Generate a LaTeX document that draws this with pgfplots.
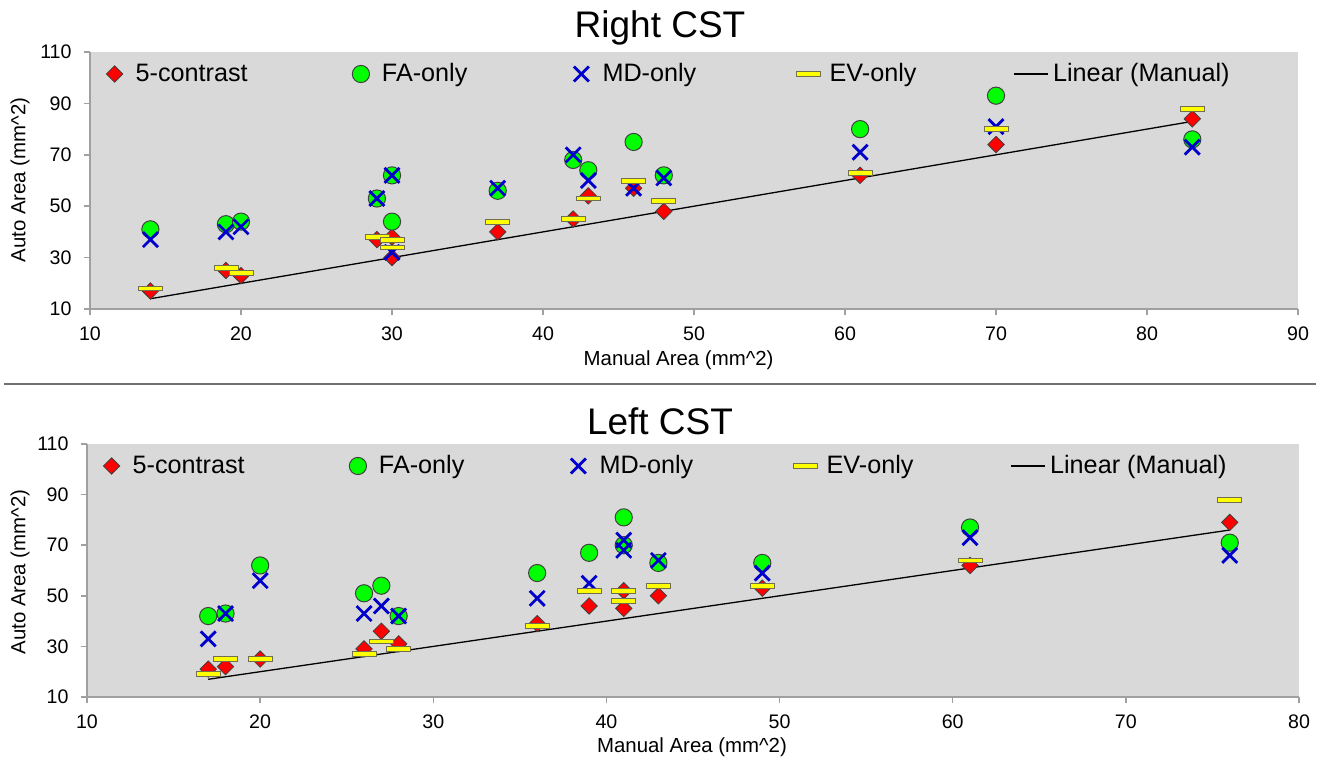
\documentclass[border=0pt]{standalone}
\usepackage{pgfplots}
\pgfplotsset{compat=1.18}
\usepackage{pgfplotstable}
\usepackage{fontspec}
\setmainfont{Liberation Sans}
\definecolor{bggray}{HTML}{D9D9D9}
\definecolor{axisgray}{HTML}{A0A0A0}
\definecolor{sepgray}{HTML}{707070}
\definecolor{darkline}{HTML}{404040}
\definecolor{fagreen}{HTML}{00FF00}
\definecolor{mdblue}{HTML}{0000CC}
\definecolor{evyellow}{HTML}{FFFF00}
\definecolor{evline}{HTML}{707050}
\pgfdeclareplotmark{evbar}{%
  \pgfpathrectangle{\pgfqpoint{-6pt}{-1.2pt}}{\pgfqpoint{12pt}{2.4pt}}%
  \pgfusepathqfillstroke}

\pgfplotstableread{
x  c5 fa md ev
14 17 41 37 18
19 25 43 40 26
20 23 44 42 24
29 37 53 53 38
30 38 62 62 37
30 30 44 32 34
37 40 56 57 44
42 45 68 70 45
43 54 64 60 53
46 57 75 57 60
48 48 62 61 52
61 62 80 71 63
70 74 93 81 80
83 84 76 73 88
}\rightdata

\pgfplotstableread{
x  c5 fa md ev
17 21 42 33 19
18 22 43 43 25
20 25 62 56 25
26 29 51 43 27
27 36 54 46 32
28 31 42 42 29
36 39 59 49 38
39 46 67 55 52
41 52 81 72 52
41 45 70 68 48
43 50 63 64 54
49 53 63 59 54
61 62 77 73 64
76 79 71 66 88
}\leftdata

\pgfplotsset{
  cstaxis/.style={
    scale only axis,
    anchor=south west,
    axis x line*=bottom, axis y line*=left,
    axis line style={-, draw=axisgray, line width=0.75pt},
    axis background/.style={fill=bggray},
    tick align=outside,
    major tick length=3.2pt,
    tick style={draw=axisgray, line width=0.75pt},
    ymin=10, ymax=110, ytick={10,30,50,70,90,110},
    ticklabel style={font=\fontsize{9.8}{11}\selectfont},
    xticklabel style={yshift=-2pt},
    yticklabel style={xshift=-2.5pt},
    /pgf/number format/assume math mode=true,
    legend columns=5,
    legend style={draw=none, fill=none, inner sep=0pt, outer sep=0pt,
      at={(axis description cs:0,1)}, anchor=west, xshift=3.75pt, yshift=-11pt,
      font=\fontsize{12.6}{15}\selectfont, column sep=0pt,
      nodes={inner sep=2pt}},
    legend cell align=left,
  },
  markleg/.style={legend image code/.code={%
      \path[draw=none, fill=none] (0cm,0cm) -- (0.6cm,0cm);
      \draw[##1] plot[only marks] coordinates {(0.3cm,0cm)};}},
  c5style/.style={only marks, markleg, mark=square*, mark size=2.9pt,
    mark options={rotate=45, fill=red, draw=darkline, line width=0.4pt}},
  fastyle/.style={only marks, markleg, mark=*, mark size=4.3pt,
    mark options={fill=fagreen, draw=darkline, line width=0.5pt}},
  mdstyle/.style={only marks, markleg, mark=x, mark size=5.3pt,
    mark options={draw=mdblue, line width=1.4pt}},
  evstyle/.style={only marks, markleg, mark=evbar,
    mark options={fill=evyellow, draw=evline, line width=0.4pt}},
  linstyle/.style={black, line width=0.65pt, no marks},
}

\begin{document}
\begin{tikzpicture}
\path[use as bounding box] (0,0) rectangle (660pt,381pt);

% Right CST
\begin{axis}[cstaxis, at={(45pt,226.5pt)}, width=604pt, height=128.5pt,
  xmin=10, xmax=90, xtick={10,20,...,90}]
\addplot[c5style] table[x=x,y=c5]{\rightdata};
\addlegendentry{\makebox[102.1pt][l]{5-contrast}}
\addplot[fastyle] table[x=x,y=fa]{\rightdata};
\addlegendentry{\makebox[89.2pt][l]{FA-only}}
\addplot[mdstyle] table[x=x,y=md]{\rightdata};
\addlegendentry{\makebox[92.5pt][l]{MD-only}}
\addplot[evstyle] table[x=x,y=ev]{\rightdata};
\addlegendentry{\makebox[90pt][l]{EV-only}}
\addplot[linstyle] coordinates {(14,14) (83,83)};
\addlegendentry{Linear (Manual)}
\end{axis}

% Left CST
\begin{axis}[cstaxis, at={(43.5pt,32.5pt)}, width=606pt, height=126.5pt,
  xmin=10, xmax=80, xtick={10,20,...,80}]
\addplot[c5style] table[x=x,y=c5]{\leftdata};
\addlegendentry{\makebox[102.1pt][l]{5-contrast}}
\addplot[fastyle] table[x=x,y=fa]{\leftdata};
\addlegendentry{\makebox[89.2pt][l]{FA-only}}
\addplot[mdstyle] table[x=x,y=md]{\leftdata};
\addlegendentry{\makebox[92.5pt][l]{MD-only}}
\addplot[evstyle] table[x=x,y=ev]{\leftdata};
\addlegendentry{\makebox[90pt][l]{EV-only}}
\addplot[linstyle] coordinates {(17,17) (76,76)};
\addlegendentry{Linear (Manual)}
\end{axis}

% titles, labels, separator
\node[font=\fontsize{18.5}{22}\selectfont, anchor=base] at (330pt,362pt) {Right CST};
\node[font=\fontsize{18.5}{22}\selectfont, anchor=base] at (330pt,164pt) {Left CST};
\node[font=\fontsize{10.2}{12}\selectfont, anchor=base] at (339.3pt,198.5pt) {Manual Area (mm\^{}2)};
\node[font=\fontsize{10.2}{12}\selectfont, anchor=base] at (346pt,5pt) {Manual Area (mm\^{}2)};
\node[font=\fontsize{10.2}{12}\selectfont, rotate=90] at (10pt,291pt) {Auto Area (mm\^{}2)};
\node[font=\fontsize{10.2}{12}\selectfont, rotate=90] at (10pt,95pt) {Auto Area (mm\^{}2)};
\draw[sepgray, line width=0.6pt] (2pt,189pt) -- (658pt,189pt);
\end{tikzpicture}
\end{document}
